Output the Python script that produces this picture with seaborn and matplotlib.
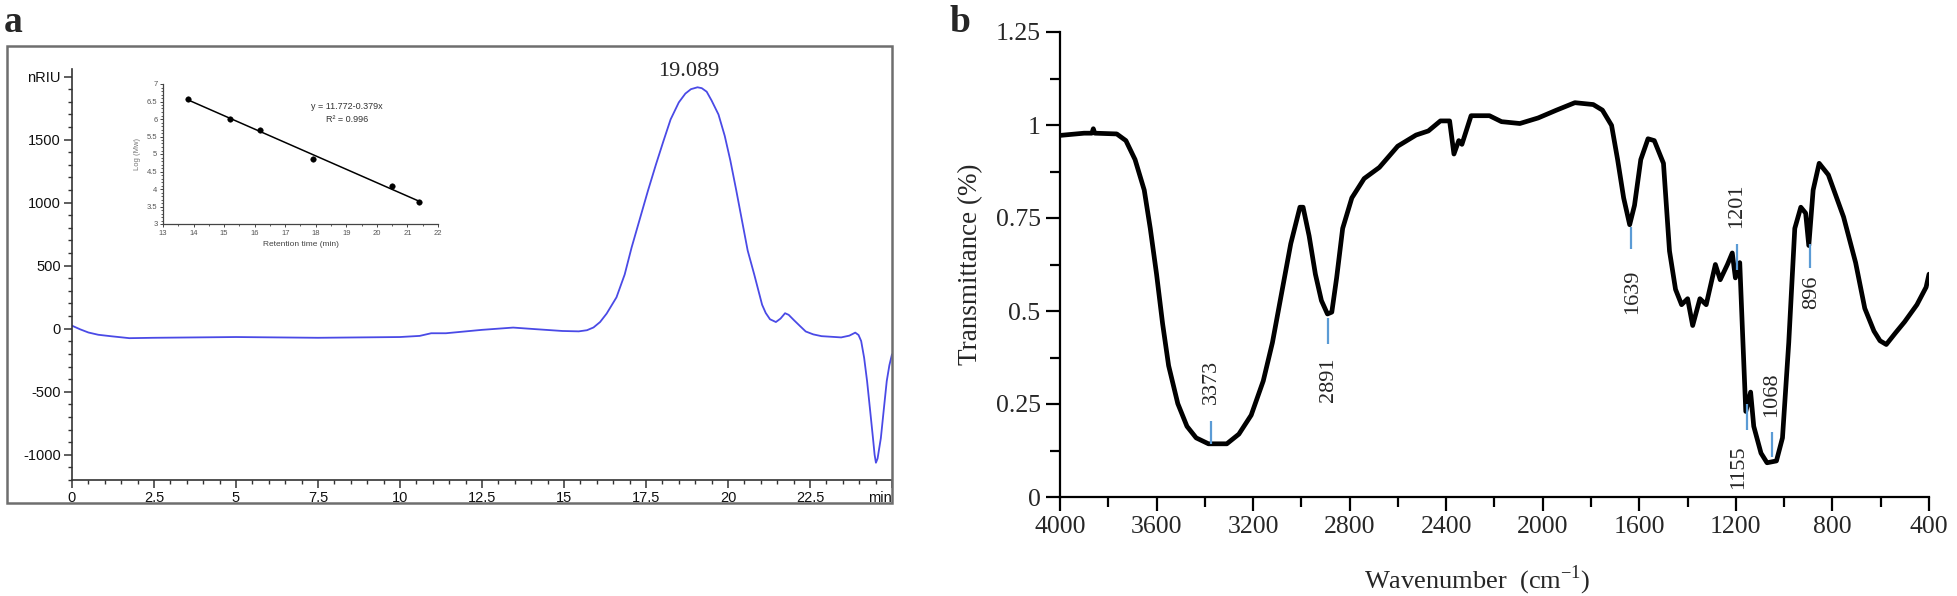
import numpy as np
import pandas as pd
import matplotlib
matplotlib.use("Agg")
import matplotlib.pyplot as plt
import seaborn as sns
from matplotlib.patches import Rectangle
from matplotlib.ticker import MultipleLocator

# ---------------- data : panel a (GPC) ----------------
gpc_time = [0, 0.25, 0.5, 0.8, 1.2, 1.75, 2.5, 5, 7.5, 10, 10.6, 10.8, 10.95, 11.4, 12.5,
            13.45, 14.1, 14.95, 15.45, 15.7, 15.9, 16.1, 16.3, 16.6, 16.85, 17.06, 17.3,
            17.56, 17.8, 18.03, 18.25, 18.5, 18.7, 18.87, 19.07, 19.2, 19.35, 19.5, 19.71,
            19.9, 20.07, 20.25, 20.43, 20.6, 20.8, 20.95, 21.04, 21.15, 21.28, 21.46, 21.6,
            21.74, 21.85, 22.01, 22.2, 22.37, 22.6, 22.85, 23.45, 23.7, 23.88, 23.98, 24.06,
            24.15, 24.24, 24.33, 24.42, 24.47, 24.51, 24.56, 24.66, 24.75, 24.84, 24.92, 25.0]
gpc_signal = [24, -5, -30, -48, -60, -75, -72, -66, -72, -66, -57, -45, -36, -36, -9,
              9, -3, -18, -21, -12, 10, 53, 120, 249, 430, 643, 860,
              1095, 1300, 1487, 1660, 1795, 1865, 1900, 1915, 1908, 1880, 1810, 1699,
              1530, 1336, 1100, 853, 620, 430, 280, 190, 125, 75, 53, 80,
              123, 110, 68, 20, -22, -45, -59, -69, -55, -31, -50, -98,
              -230, -415, -640, -868, -1000, -1063, -1030, -868, -640, -415, -290, -203]
gpc_yticks = [-1000, -500, 0, 500, 1000, 1500, 2000]
gpc_ytick_labels = ["-1000", "-500", "0", "500", "1000", "1500", "nRIU"]
gpc_xticks = [0, 2.5, 5, 7.5, 10, 12.5, 15, 17.5, 20, 22.5, 25]
gpc_xtick_labels = ["0", "2.5", "5", "7.5", "10", "12.5", "15", "17.5", "20", "22.5", "min"]
gpc_peak_label = "19.089"

cal_time = [13.82, 15.19, 16.17, 17.92, 20.48, 21.37]
cal_logmw = [6.57, 6.00, 5.69, 4.87, 4.09, 3.62]
cal_equation = "y = 11.772-0.379x"
cal_r2 = "R² = 0.996"

# ---------------- data : panel b (FT-IR) ----------------
ir_wavenumber = [4000, 3950, 3900, 3868, 3862, 3856, 3765, 3727, 3689, 3651, 3626, 3600,
                 3575, 3550, 3512, 3474, 3436, 3385, 3309, 3259, 3208, 3158, 3120, 3082,
                 3044, 3006, 2993, 2968, 2942, 2917, 2892, 2874, 2854, 2829, 2791, 2740,
                 2677, 2601, 2525, 2474, 2424, 2386, 2368, 2348, 2335, 2297, 2221, 2171,
                 2095, 2019, 1943, 1867, 1791, 1753, 1715, 1690, 1665, 1640, 1620, 1594,
                 1564, 1538, 1500, 1475, 1450, 1425, 1400, 1379, 1349, 1323, 1285, 1265,
                 1235, 1215, 1202, 1184, 1172, 1159, 1139, 1126, 1096, 1071, 1032, 1007,
                 981, 956, 931, 911, 898, 880, 855, 817, 754, 704, 666, 628, 603, 577,
                 539, 501, 450, 412, 400]
ir_transmittance = [0.972, 0.975, 0.978, 0.978, 0.990, 0.978, 0.976, 0.958, 0.907, 0.825, 0.722, 0.599,
                    0.466, 0.353, 0.251, 0.190, 0.159, 0.143, 0.143, 0.169, 0.220, 0.312, 0.415, 0.548,
                    0.681, 0.779, 0.779, 0.702, 0.599, 0.528, 0.492, 0.497, 0.589, 0.722, 0.804, 0.856,
                    0.886, 0.943, 0.973, 0.984, 1.011, 1.011, 0.922, 0.958, 0.948, 1.025, 1.025, 1.009,
                    1.004, 1.019, 1.040, 1.060, 1.055, 1.040, 0.999, 0.907, 0.804, 0.732, 0.784, 0.907,
                    0.963, 0.958, 0.897, 0.661, 0.558, 0.517, 0.533, 0.461, 0.533, 0.517, 0.625, 0.584,
                    0.625, 0.656, 0.589, 0.630, 0.435, 0.230, 0.282, 0.190, 0.118, 0.092, 0.097, 0.159,
                    0.415, 0.722, 0.779, 0.763, 0.676, 0.825, 0.897, 0.866, 0.753, 0.630, 0.507, 0.446,
                    0.420, 0.410, 0.441, 0.471, 0.517, 0.564, 0.599]
ir_xticks = [4000, 3600, 3200, 2800, 2400, 2000, 1600, 1200, 800, 400]
ir_yticks = [0, 0.25, 0.5, 0.75, 1, 1.25]
ir_ytick_labels = ["0", "0.25", "0.5", "0.75", "1", "1.25"]

ir_peak_labels = ["3373", "2891", "1639", "1201", "1155", "1068", "896"]
ir_peak_marker_x = [3375, 2891, 1634, 1194, 1156, 1049, 893]
ir_peak_marker_lo = [0.143, 0.410, 0.666, 0.610, 0.179, 0.108, 0.615]
ir_peak_marker_hi = [0.205, 0.482, 0.727, 0.681, 0.251, 0.174, 0.681]
ir_label_x = [3373, 2887, 1627, 1197, 1189, 1053, 888]
ir_label_y = [0.251, 0.374, 0.610, 0.722, 0.138, 0.215, 0.594]
ir_label_side = ["above", "below", "below", "above", "below", "above", "below"]

# ---------------- figure ----------------
sns.set_style("ticks")
plt.rcParams['font.family'] = ['Liberation Sans', 'DejaVu Sans']
plt.rcParams['mathtext.fontset'] = 'custom'
plt.rcParams['mathtext.rm'] = 'Liberation Serif'

W, H = 1958, 596
fig = plt.figure(figsize=(W / 100, H / 100), dpi=100)
fig.patch.set_facecolor('white')


def px_axes(l, t, r, b):
    return fig.add_axes([l / W, 1 - b / H, (r - l) / W, (b - t) / H])


SERIF = ['Liberation Serif', 'DejaVu Serif']

# ---- panel a frame and panel letters ----
fig.add_artist(Rectangle((7 / W, 1 - 503 / H), 885 / W, 457 / H, transform=fig.transFigure,
                         fill=False, ec='#6e6e6e', lw=1.8))
fig.text(4 / W, 1 - 32 / H, 'a', family=SERIF, weight='bold', fontsize=27, va='baseline')
fig.text(950 / W, 1 - 32 / H, 'b', family=SERIF, weight='bold', fontsize=27, va='baseline')

# ---- panel a main axes ----
ax1 = px_axes(72, 69, 892, 480)
ax1.set_facecolor('none')
df_gpc = pd.DataFrame({'time': gpc_time, 'signal': gpc_signal})
sns.lineplot(data=df_gpc, x='time', y='signal', ax=ax1, color='#4a4ae6', lw=1.3,
             estimator=None, sort=False)
ax1.lines[-1].set_solid_joinstyle('round')
ax1.set_xlim(0, 25)
ax1.set_ylim(-1200, 2060)
for s in ['top', 'right']:
    ax1.spines[s].set_visible(False)
for s in ['left', 'bottom']:
    ax1.spines[s].set_color('#333333')
    ax1.spines[s].set_linewidth(1.2)
ax1.set_yticks(gpc_yticks)
ax1.set_yticklabels(gpc_ytick_labels)
ax1.set_xticks(gpc_xticks)
xl = ax1.set_xticklabels(gpc_xtick_labels)
xl[-1].set_ha('right')
ax1.yaxis.set_minor_locator(MultipleLocator(100))
ax1.xaxis.set_minor_locator(MultipleLocator(0.5))
ax1.tick_params(axis='both', which='major', length=6, width=1.1, color='#333333',
                labelsize=10.5, labelcolor='#111111', pad=2)
ax1.tick_params(axis='both', which='minor', length=3, width=1.0, color='#333333')
ax1.set_xlabel('')
ax1.set_ylabel('')
ax1.text(18.8, 2040, gpc_peak_label, family=SERIF, fontsize=16, ha='center', va='center',
         clip_on=False)

# ---- inset ----
ax_in = px_axes(163, 84, 438, 224)
ax_in.set_facecolor('none')
sns.regplot(x=cal_time, y=cal_logmw, ax=ax_in, scatter=False, ci=None, truncate=True,
            line_kws=dict(color='black', lw=1.1))
sns.scatterplot(x=cal_time, y=cal_logmw, ax=ax_in, color='black', s=16, edgecolor='black',
                zorder=3)
ax_in.set_xlim(13, 22)
ax_in.set_ylim(3, 7)
for s in ['top', 'right']:
    ax_in.spines[s].set_visible(False)
for s in ['left', 'bottom']:
    ax_in.spines[s].set_color('#444444')
    ax_in.spines[s].set_linewidth(0.9)
ax_in.set_xticks(range(13, 23))
ax_in.set_yticks([3, 3.5, 4, 4.5, 5, 5.5, 6, 6.5, 7])
ax_in.set_yticklabels(['3', '3.5', '4', '4.5', '5', '5.5', '6', '6.5', '7'])
ax_in.xaxis.set_minor_locator(MultipleLocator(0.5))
ax_in.yaxis.set_minor_locator(MultipleLocator(0.1))
ax_in.tick_params(axis='both', which='major', length=2.5, width=0.7, color='#444444',
                  labelsize=5.5, labelcolor='#555555', pad=1.5)
ax_in.tick_params(axis='both', which='minor', length=1.5, width=0.6, color='#444444')
ax_in.set_xlabel('Retention time (min)', fontsize=6, color='#444444', labelpad=3)
ax_in.set_ylabel('Log (Mw)', fontsize=5.5, color='#777777', labelpad=4)
ax_in.text(0.669, 0.836, cal_equation, transform=ax_in.transAxes, fontsize=6.5,
           ha='center', va='center', color='#333333')
ax_in.text(0.669, 0.75, cal_r2, transform=ax_in.transAxes, fontsize=6.5,
           ha='center', va='center', color='#333333')

# ---- panel b ----
ax2 = px_axes(1060, 32, 1929, 497)
sns.lineplot(x=ir_wavenumber, y=ir_transmittance, ax=ax2, color='black', lw=3.4,
             estimator=None, sort=False)
ax2.lines[-1].set_solid_joinstyle('round')
ax2.set_xlim(4000, 400)
ax2.set_ylim(0, 1.25)
for s in ['top', 'right']:
    ax2.spines[s].set_visible(False)
for s in ['left', 'bottom']:
    ax2.spines[s].set_color('black')
    ax2.spines[s].set_linewidth(1.6)
ax2.set_xticks(ir_xticks)
ax2.set_xticklabels([str(v) for v in ir_xticks])
ax2.set_yticks(ir_yticks)
ax2.set_yticklabels(ir_ytick_labels)
ax2.xaxis.set_minor_locator(MultipleLocator(200))
ax2.yaxis.set_minor_locator(MultipleLocator(0.125))
ax2.tick_params(axis='both', which='major', length=10, width=1.6, color='black',
                labelsize=18.5, pad=4)
ax2.tick_params(axis='both', which='minor', length=7, width=1.6, color='black')
for lab in ax2.get_xticklabels() + ax2.get_yticklabels():
    lab.set_family(SERIF)
ax2.set_ylabel('Transmittance (%)', family=SERIF, fontsize=19.5)
ax2.yaxis.set_label_coords(-0.0886, 0.5)
ax2.set_xlabel(r'Wavenumber  (cm$^{\mathregular{-1}}$)', family=SERIF, fontsize=19)
ax2.xaxis.set_label_coords(0.48, -0.144)

ax2.vlines(ir_peak_marker_x, ir_peak_marker_lo, ir_peak_marker_hi, color='#5B9BD5', lw=1.6,
           zorder=4)
for lab, x, y, side in zip(ir_peak_labels, ir_label_x, ir_label_y, ir_label_side):
    ax2.text(x, y, lab, rotation=90, family=SERIF, fontsize=16, ha='center',
             va='bottom' if side == 'above' else 'top')

fig.savefig('out.png', dpi=100, facecolor='white')
